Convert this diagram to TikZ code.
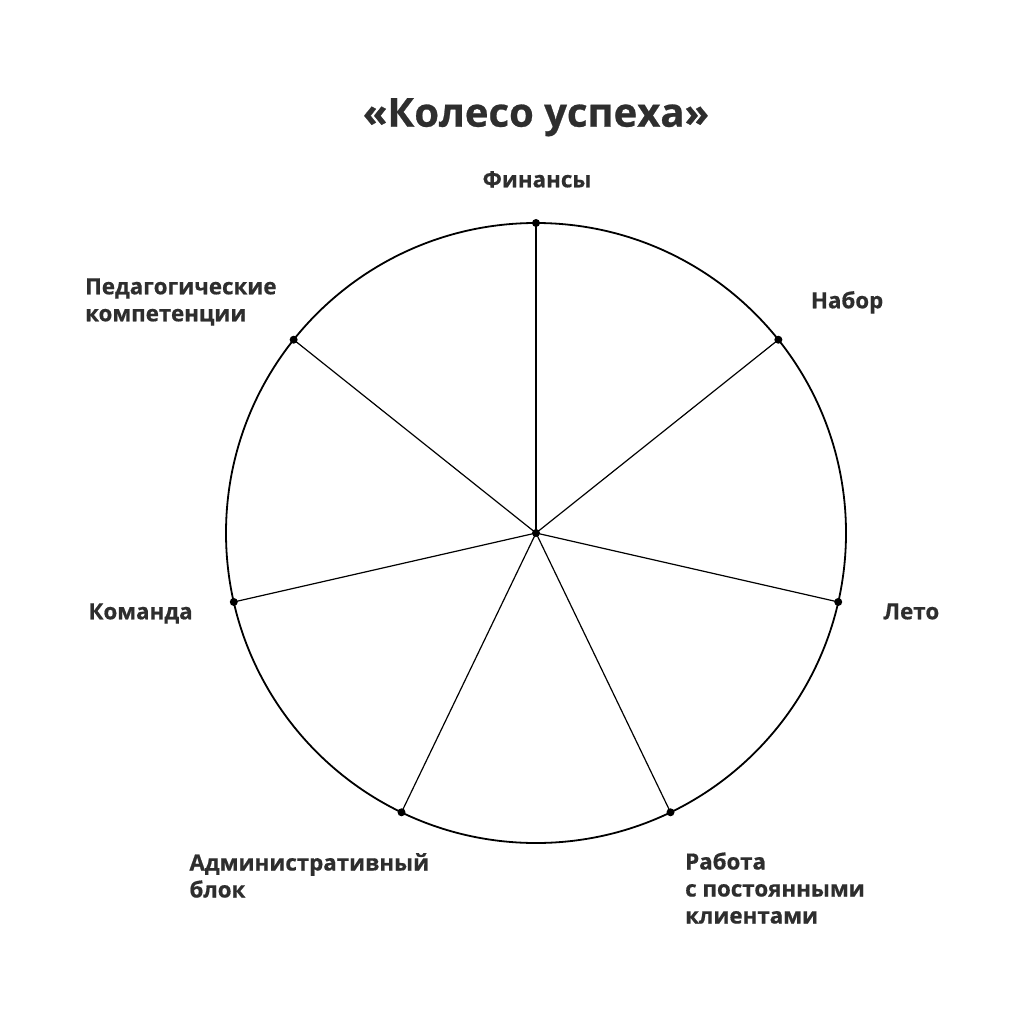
\documentclass[tikz,border=0pt]{standalone}
\usepackage{fontspec}
\setmainfont{Open Sans}[BoldFeatures={FakeBold=0.6}]
\usetikzlibrary{calc}
\definecolor{labelgray}{HTML}{2E2E2E}
\begin{document}
\begin{tikzpicture}[x=1pt,y=-1pt,
  label/.style={font=\fontsize{22.3}{27}\selectfont\bfseries,text=labelgray,inner sep=0pt,align=left},
  spoke/.style={line width=1.2pt},
  rim/.style={line width=1.8pt},
  dot/.style={fill=black}]
\useasboundingbox[fill=white] (0,0) rectangle (1024,1024);
% Drawing title
\node[label,font=\fontsize{40}{48}\selectfont\bfseries,anchor=base] (title) at (536,126.7) {«Колесо успеха»};
% Drawing wheel
\coordinate (hub) at (536,533);
\draw[rim] (hub) circle(310pt);
\foreach \i in {0,...,6}
  \coordinate (p\i) at ($(hub)+({90-\i*360/7}:310pt)$);
% Drawing spokes
\foreach \i in {0,...,6}
  \draw[spoke] (hub) -- (p\i);
\foreach \i in {0,...,6}
  \fill[dot] (p\i) circle(4pt);
\fill[dot] (hub) circle(4pt);
% Done with wheel; drawing labels
% (base of a multi-line label is its last line)
\node[label,anchor=base] (finance) at (537,187.3) {Финансы};
\node[label,anchor=base west] (intake) at (810.7,308.3) {Набор};
\node[label,anchor=base west] (summer) at (883.3,619.3) {Лето};
\node[label,anchor=base west] (clients) at (685,923.5) {Работа\\с постоянными\\клиентами};
\node[label,anchor=base west] (admin) at (189.3,897.5) {Административный\\блок};
\node[label,anchor=base west] (team) at (88.3,619.3) {Команда};
\node[label,anchor=base west] (teach) at (85,321.3) {Педагогические\\компетенции};
% Done with labels
\end{tikzpicture}
\end{document}
